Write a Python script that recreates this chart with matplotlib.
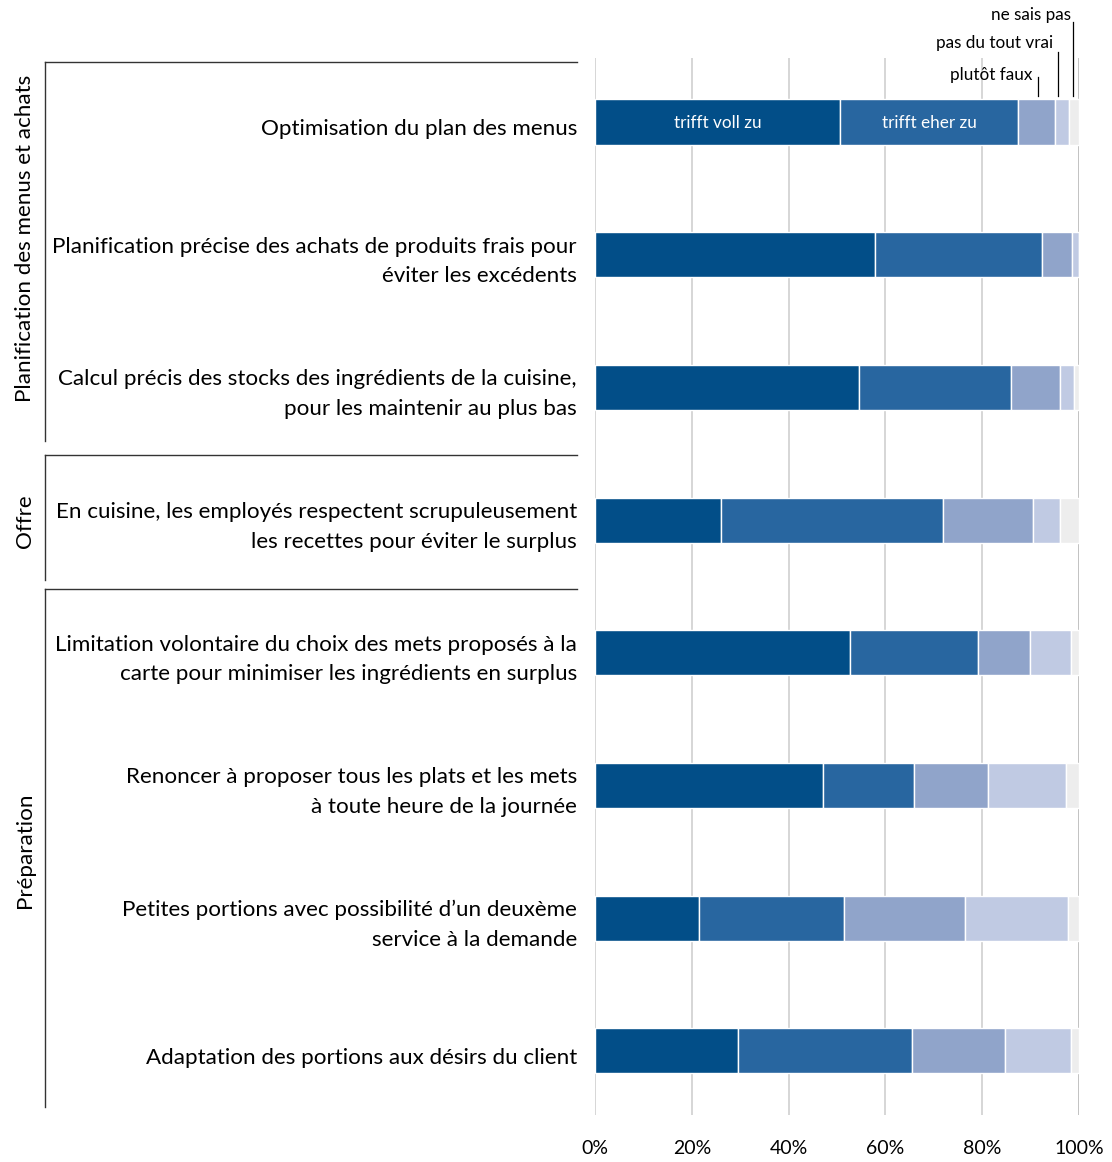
import matplotlib
matplotlib.use("Agg")
import matplotlib.pyplot as plt
import matplotlib.transforms as mtransforms
import numpy as np

plt.rcParams['font.family'] = ['Lato', 'DejaVu Sans']

items = [
    "Optimisation du plan des menus",
    "Planification précise des achats de produits frais pour\néviter les excédents",
    "Calcul précis des stocks des ingrédients de la cuisine,\npour les maintenir au plus bas",
    "En cuisine, les employés respectent scrupuleusement\nles recettes pour éviter le surplus",
    "Limitation volontaire du choix des mets proposés à la\ncarte pour minimiser les ingrédients en surplus",
    "Renoncer à proposer tous les plats et les mets\nà toute heure de la journée",
    "Petites portions avec possibilité d\u2019un deuxème\nservice à la demande",
    "Adaptation des portions aux désirs du client",
]

series_names = ["trifft voll zu", "trifft eher zu", "plutôt faux", "pas du tout vrai", "ne sais pas"]

voll_zu = [50.6, 57.9, 54.5, 26.0, 52.6, 47.2, 21.4, 29.5]
eher_zu = [36.8, 34.4, 31.4, 45.8, 26.6, 18.8, 30.0, 35.9]
plutot_faux = [7.6, 6.2, 10.2, 18.7, 10.7, 15.3, 25.0, 19.3]
pas_du_tout = [2.9, 1.5, 2.8, 5.6, 8.4, 16.0, 21.4, 13.6]
ne_sais_pas = [2.1, 0.0, 1.1, 3.9, 1.7, 2.7, 2.2, 1.7]

groups = ["Planification des menus et achats", "Offre", "Préparation"]

x_ticks = [0, 20, 40, 60, 80, 100]
x_tick_labels = ["0%", "20%", "40%", "60%", "80%", "100%"]

colors = ["#024e88", "#2866a0", "#90a4ca", "#c0cae3", "#ededed"]

W, H = 1112, 1162
fig = plt.figure(figsize=(W / 100, H / 100), dpi=100)
ax = fig.add_axes([595 / W, 1 - 1115 / H, (1079 - 595) / W, (1115 - 58) / H])

y = np.arange(len(items))
left = np.zeros(len(items))
for name, vals, col in zip(series_names,
                           [voll_zu, eher_zu, plutot_faux, pas_du_tout, ne_sais_pas],
                           colors):
    vals = np.array(vals)
    ax.barh(y, vals, left=left, height=0.34, color=col, edgecolor="white",
            linewidth=1.0, zorder=3)
    left += vals

ax.set_xlim(0, 100)
ax.set_ylim(7.483, -0.482)
ax.set_yticks([])
ax.set_xticks(x_ticks)
ax.set_xticklabels(x_tick_labels, fontsize=14)
ax.tick_params(axis="x", length=0, pad=18)
for s in ax.spines.values():
    s.set_visible(False)
for xt in x_ticks:
    ax.axvline(xt, color="#b8b8b8" if xt == 100 else "#d0d0d0", lw=1.2, zorder=1)

# in-bar labels on the first row
ax.text(voll_zu[0] / 2, 0.01, series_names[0], color="white", ha="center",
        va="center", fontsize=12.3, zorder=4)
ax.text(voll_zu[0] + eher_zu[0] / 2, 0.01, series_names[1], color="white",
        ha="center", va="center", fontsize=12.3, zorder=4)

# callouts for the narrow segments
callouts = [
    (series_names[2], 91.5, -0.339, 90.3, -0.354),
    (series_names[3], 95.7, -0.528, 94.6, -0.595),
    (series_names[4], 98.8, -0.754, 98.3, -0.806),
]
for label, lx, ly, tx, ty in callouts:
    ax.plot([lx, lx], [ly, -0.196], color="black", lw=0.9, clip_on=False, zorder=5)
    ax.text(tx, ty, label, ha="right", va="center", fontsize=12.3, clip_on=False)

# category labels and group brackets
blend = mtransforms.blended_transform_factory(fig.transFigure, ax.transData)
for i, lab in enumerate(items):
    ax.text(577 / W, i + 0.05, lab, transform=blend, ha="right", va="center",
            fontsize=16.1, linespacing=1.6, multialignment="right")

def row_of(px):
    return (px - 122) / 132.7

bracket_spans = [(62, 441), (455, 580), (589, 1107)]
group_label_px = [238, 521, 850]
for name, (top, bot), gy in zip(groups, bracket_spans, group_label_px):
    yt, yb = row_of(top), row_of(bot)
    ax.plot([45 / W, 577 / W], [yt, yt], transform=blend, color="#333333",
            lw=1.0, clip_on=False)
    ax.plot([45 / W, 45 / W], [yt, yb], transform=blend, color="#333333",
            lw=1.0, clip_on=False)
    ax.text(25 / W, row_of(gy), name, transform=blend, rotation=90,
            ha="center", va="center", fontsize=16.1)

fig.savefig("out.png", dpi=100)
